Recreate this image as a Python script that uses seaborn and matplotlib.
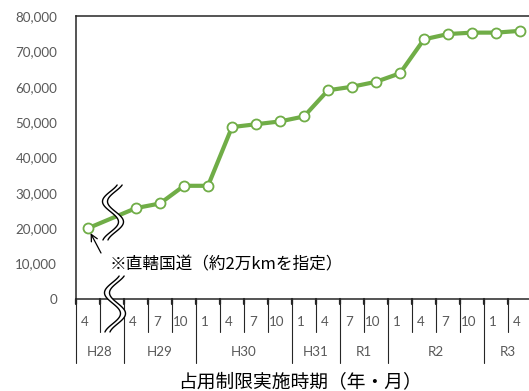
import numpy as np
import pandas as pd
import matplotlib
matplotlib.use("Agg")
import matplotlib.pyplot as plt
from matplotlib.lines import Line2D
from matplotlib.patches import Polygon
from matplotlib.transforms import blended_transform_factory
import seaborn as sns

# ---- data -------------------------------------------------------------
# one slot per quarter; the second H28 slot is skipped by the axis break
month_labels = ["4", "", "4", "7", "10", "1", "4", "7", "10", "1", "4",
                "7", "10", "1", "4", "7", "10", "1", "4"]
year_labels = ["H28", "H29", "H30", "H31", "R1", "R2", "R3"]
year_spans = [2, 3, 4, 2, 2, 4, 2]
# designated length (km) at each slot; None where no value is plotted
values = [20000, None, 25700, 27000, 32000, 32000, 48600, 49400, 50200,
          51600, 59000, 60000, 61400, 63800, 73400, 74900, 75300, 75300,
          75800]
y_ticks = [0, 10000, 20000, 30000, 40000, 50000, 60000, 70000, 80000]
note_text = "※直轄国道（約2万kmを指定）"
axis_title = "占用制限実施時期（年・月）"

# ---- style ------------------------------------------------------------
sns.set_theme(style="white")
plt.rcParams["font.family"] = ["Lato", "Noto Sans CJK JP", "DejaVu Sans"]
GREEN = "#70AD47"
GRAY = "#595959"
LINE = "#262626"

W, H = 529, 391
fig = plt.figure(figsize=(W / 100, H / 100), dpi=100)
ax = fig.add_axes([76 / W, 1 - 299 / H, 1 - 76 / W, (299 - 16) / H])


def fy(py):
    """figure-fraction y for a pixel row measured from the top"""
    return 1 - py / H


def fx(px):
    return px / W


df = pd.DataFrame({"slot": np.arange(len(month_labels)), "value": values})
df = df.dropna()

sns.lineplot(data=df, x="slot", y="value", ax=ax, color=GREEN,
             linewidth=3.0, marker="o", markersize=7.2,
             markerfacecolor="white", markeredgecolor=GREEN,
             markeredgewidth=1.3, zorder=3)

n = len(month_labels)
ax.set_xlim(-0.5, -0.5 + (W - 76) / 24)
ax.set_ylim(0, 80000)
ax.set_yticks(y_ticks)
ax.set_yticklabels([f"{v:,}" for v in y_ticks], color=GRAY, fontsize=9.6)
ax.tick_params(axis="y", length=0, pad=13.5)
ax.set_xticks([])
ax.set_xlabel("")
ax.set_ylabel("")
for side in ("left", "top", "bottom"):
    ax.spines[side].set_color(LINE)
    ax.spines[side].set_linewidth(1.1)
ax.spines["right"].set_visible(False)

# ---- two-level category axis -----------------------------------------
tr = blended_transform_factory(ax.transData, fig.transFigure)
year_starts = np.cumsum([0] + year_spans[:-1])
for k in range(n + 1):
    xb = k - 0.5
    bottom = 363 if k in year_starts or k == n else 332
    fig.add_artist(Line2D([xb, xb], [fy(299), fy(bottom)], transform=tr,
                          color=LINE, lw=0.8, clip_on=False))
    fig.add_artist(Line2D([xb, xb], [fy(299), fy(304)], transform=tr,
                          color=LINE, lw=1.6, clip_on=False))
for i, lab in enumerate(month_labels):
    fig.text(i - 0.12, fy(322), lab, transform=tr, ha="center",
             va="center", color=GRAY, fontsize=9.6)
for start, span, lab in zip(year_starts, year_spans, year_labels):
    fig.text(start + span / 2 - 0.5, fy(352), lab, transform=tr,
             ha="center", va="center", color=GRAY, fontsize=9.6)

fig.text(fx(300), fy(382), axis_title, ha="center", va="center",
         color="black", fontsize=13.5,
         family=["Noto Sans CJK JP", "DejaVu Sans"])

# ---- axis break marks -------------------------------------------------


def break_mark(xc, y0, y1, amp=8.0, gap=5.0):
    t = np.linspace(0, 1, 80)
    ys = y0 + t * (y1 - y0)
    xs = xc - amp * np.sin(2 * np.pi * (t - 0.115) / 0.74)
    left = np.column_stack([fx(xs - gap / 2), fy(ys)])
    right = np.column_stack([fx(xs + gap / 2), fy(ys)])
    poly = np.vstack([left, right[::-1]])
    fig.add_artist(Polygon(poly, closed=True, transform=fig.transFigure,
                           facecolor="white", edgecolor="none", zorder=10))
    for pts in (left, right):
        fig.add_artist(Line2D(pts[:, 0], pts[:, 1],
                              transform=fig.transFigure, color="black",
                              lw=1.0, zorder=11))


break_mark(113, 185, 240)
break_mark(115, 276, 332)

# ---- annotation -------------------------------------------------------
first = df.iloc[0]
ax.annotate("", xy=(first["slot"], first["value"]),
            xytext=(fx(101), fy(253)), textcoords="figure fraction",
            arrowprops=dict(arrowstyle="->", color="black", lw=0.9,
                            shrinkA=0, shrinkB=4, mutation_scale=12),
            zorder=12)
fig.text(fx(110), fy(265), note_text, ha="left", va="center",
         color="black", fontsize=12,
         family=["Noto Sans CJK JP", "DejaVu Sans"])

fig.savefig("out.png", dpi=100)
